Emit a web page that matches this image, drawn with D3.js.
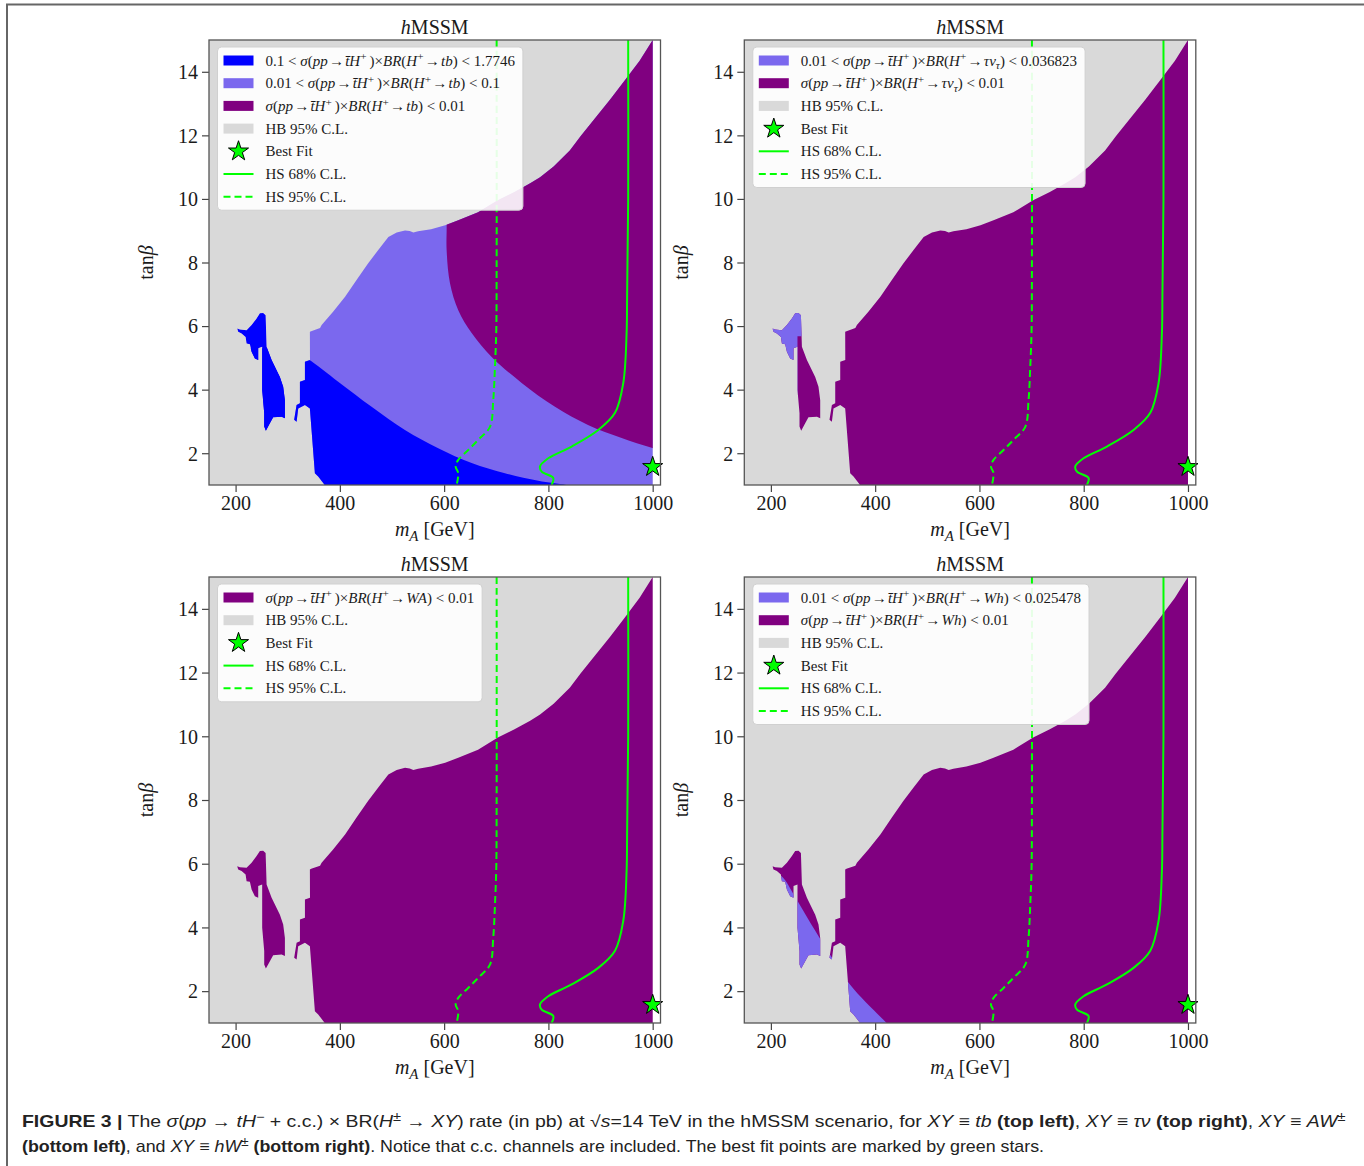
<!DOCTYPE html>
<html>
<head>
<meta charset="utf-8">
<title>hMSSM charged Higgs rates</title>
<script src="https://cdnjs.cloudflare.com/ajax/libs/d3/7.8.5/d3.min.js"></script>
<style>
  body { margin: 0; background: #fff; }
  svg { display: block; }
  text { font-family: 'Liberation Serif', 'Times New Roman', serif; fill: #1a1a1a; white-space: pre; }
  .caption text { font-family: 'Liberation Sans Narrow', 'Liberation Sans', Arial, sans-serif; fill: #222; }
</style>
</head>
<body>
<svg id="fig" width="1364" height="1166"></svg>
<script>
// ---- data (mA in GeV, tan beta) ----
const xTicks = [200, 400, 600, 800, 1000];
const yTicks = [2, 4, 6, 8, 10, 12, 14];
const xDomain = [149, 1015];
const yDomain = [1, 15];
const hbRange = [149, 1000];

// outline of the region allowed by HiggsBounds (main body)
const allowedRegion = [
  [1000, 15.0], [975, 14.35], [947, 13.74], [918, 13.12], [889, 12.53], [862, 11.98],
  [841, 11.52], [810, 11.02], [784, 10.68], [765, 10.49], [735, 10.22], [703, 9.96],
  [665, 9.58], [627, 9.33], [602, 9.17], [575, 9.05], [550, 8.98], [541, 8.94],
  [534, 8.99], [525, 9.01], [509, 8.94], [493, 8.80], [474, 8.40], [454, 7.97],
  [432, 7.45], [410, 6.92], [387, 6.45], [365, 6.03], [362, 5.94], [345, 5.84],
  [342.5, 5.82], [342.7, 4.93], [333, 4.88], [333, 4.30], [323.4, 4.25], [323.4, 3.57],
  [317, 3.52], [312.4, 3.05], [317, 2.99], [320.1, 3.41], [333, 3.52], [342.5, 3.41],
  [352.1, 1.37], [358.5, 1.27], [368.1, 1.06], [371, 1.0], [1000, 1.0]
];
// small allowed island at low mA
const island = [
  [252.9, 6.41], [257.6, 6.34], [259.5, 5.35], [269.1, 4.93], [285, 4.40], [291.3, 4.09],
  [294.6, 3.67], [294.6, 3.10], [288.3, 3.15], [272.1, 3.13], [265.8, 2.94], [258.1, 2.71],
  [254.9, 2.84], [254.9, 3.26], [251, 3.99], [251, 5.35], [243.4, 5.30], [243.4, 4.93],
  [237, 4.98], [230.7, 5.19], [227.4, 5.43], [221.1, 5.45], [219.2, 5.66], [211.5, 5.77],
  [205, 5.82], [203.1, 5.92], [208.2, 5.89], [221.1, 5.87], [230.7, 6.03], [240.3, 6.24],
  [246.6, 6.40]
];
// tb channel: contour 0.1 pb and 0.01 pb
const tbBlueEdge = [
  [300, 5.3], [338, 4.97], [396.8, 4.25], [460.9, 3.46], [524.8, 2.73], [588.7, 2.16],
  [652.8, 1.69], [716.6, 1.37], [780.5, 1.13], [834, 1.0], [860, 0.9], [140, 0.6], [140, 5.3]
];
const tbPurpleEdge = [
  [600, 15.5], [603, 11], [604.8, 9.17], [604.8, 8.38], [611.2, 7.35], [627.1, 6.5],
  [652.8, 5.78], [691.1, 5.03], [748.7, 4.21], [812.6, 3.46], [875.9, 2.89], [940.5, 2.48],
  [998, 2.17], [1050, 1.95], [1100, 1.9], [1100, 16]
];
// tau nu channel: 0.01 pb contour
const tauZone = [[140, 16], [300, 16], [300, 5.68], [251, 5.68], [251, 0.5], [140, 0.5]];
// Wh channel: 0.01 pb contour
const whEdge = [
  [140, 5.9], [200, 5.75], [221, 5.6], [245, 5.0], [270, 4.3], [300, 3.5], [352, 2.2],
  [422, 1.0], [440, 0.7], [140, 0.5]
];
// HiggsSignals contours
const hs68 = [
  [953, 15], [953, 10], [951, 7], [950, 5.78], [943.6, 4.21], [927.7, 3.27], [895.6, 2.73],
  [844.6, 2.21], [799.7, 1.84], [783.8, 1.58], [787.1, 1.42], [809.3, 1.22], [806.2, 1.0]
];
const hs95 = [
  [700.7, 15], [700.7, 8], [700, 5.87], [697.5, 4.72], [694.2, 3.67], [687.9, 2.83],
  [665.4, 2.42], [646.2, 2.1], [627.1, 1.79], [622.1, 1.58], [627.1, 1.37], [624, 1.0]
];
const bestFit = [1000, 1.57];

// ---- text ----
const tbLabels = [
  '0.1 < {σ}({pp} → {t̄H}^+^ )×{BR}({H}^+^ → {tb}) < 1.7746',
  '0.01 < {σ}({pp} → {t̄H}^+^ )×{BR}({H}^+^ → {tb}) < 0.1',
  '{σ}({pp} → {t̄H}^+^ )×{BR}({H}^+^ → {tb}) < 0.01'
];
const tauLabels = [
  '0.01 < {σ}({pp} → {t̄H}^+^ )×{BR}({H}^+^ → {τν}~{τ}~) < 0.036823',
  '{σ}({pp} → {t̄H}^+^ )×{BR}({H}^+^ → {τν}~{τ}~) < 0.01'
];
const waLabels = ['{σ}({pp} → {t̄H}^+^ )×{BR}({H}^+^ → {WA}) < 0.01'];
const whLabels = [
  '0.01 < {σ}({pp} → {t̄H}^+^ )×{BR}({H}^+^ → {Wh}) < 0.025478',
  '{σ}({pp} → {t̄H}^+^ )×{BR}({H}^+^ → {Wh}) < 0.01'
];
const commonLabels = ['HB 95% C.L.', 'Best Fit', 'HS 68% C.L.', 'HS 95% C.L.'];
const caption = [
  '*FIGURE 3 |* The {σ}({pp} → {tH}^−^ + c.c.) × BR({H}^±^ → {XY}) rate (in pb) at √{s}=14 TeV in the hMSSM scenario, for {XY} ≡ {tb} *(top left)*, {XY} ≡ {τν} *(top right)*, {XY} ≡ {AW}^±^',
  '*(bottom left)*, and {XY} ≡ {hW}^±^ *(bottom right)*. Notice that c.c. channels are included. The best fit points are marked by green stars.'
];

const BLUE = '#0000ff', LIGHT = '#7b68ee', PURPLE = '#800080', GRAY = '#d9d9d9', GREEN = '#00ff00';
const W = 451.5;

const panels = [
  { left: 209, top: 40, h: 445,
    layers: [[LIGHT, null, false], [PURPLE, tbPurpleEdge, true], [BLUE, tbBlueEdge, true], [BLUE, island, false]],
    legend: [['patch', BLUE, tbLabels[0]], ['patch', LIGHT, tbLabels[1]], ['patch', PURPLE, tbLabels[2]]] },
  { left: 744.3, top: 40, h: 445,
    layers: [[PURPLE, null, false], [LIGHT, tauZone, false]],
    legend: [['patch', LIGHT, tauLabels[0]], ['patch', PURPLE, tauLabels[1]]] },
  { left: 209, top: 577, h: 446,
    layers: [[PURPLE, null, false]],
    legend: [['patch', PURPLE, waLabels[0]]] },
  { left: 744.3, top: 577, h: 446,
    layers: [[PURPLE, null, false], [LIGHT, whEdge, true]],
    legend: [['patch', LIGHT, whLabels[0]], ['patch', PURPLE, whLabels[1]]] }
];
panels.forEach(p => p.legend.push(
  ['patch', GRAY, commonLabels[0]], ['star', GREEN, commonLabels[1]],
  ['line', GREEN, commonLabels[2]], ['dash', GREEN, commonLabels[3]]));

// {..} italic, ^..^ superscript, ~..~ subscript, *..* bold
function rich(textSel, str, size) {
  let it = false, sup = false, sub = false, bold = false, buf = '', shift = 0;
  const flush = () => {
    if (!buf) return;
    const off = sup ? -0.36 * size : sub ? 0.25 * size : 0;
    textSel.append('tspan')
      .attr('dy', (off - shift).toFixed(2))
      .style('font-style', it ? 'italic' : null)
      .style('font-weight', bold ? 'bold' : null)
      .style('font-size', (sup || sub) ? (0.75 * size) + 'px' : null)
      .text(buf);
    shift = off; buf = '';
  };
  for (const ch of str) {
    if ('{}^~*'.includes(ch)) {
      flush();
      if (ch === '{') it = true;
      else if (ch === '}') it = false;
      else if (ch === '^') sup = !sup;
      else if (ch === '~') sub = !sub;
      else bold = !bold;
    } else buf += ch;
  }
  flush();
  return textSel;
}
// thin spacing around arrows in legend labels
const mathSpace = s => s.replace(/ → /g, '\u200a→\u200a').replace(/ \)/g, '\u2009)');

const svg = d3.select('#fig');
const defs = svg.append('defs');

// figure frame
svg.append('path').attr('d', 'M7,1166 V4.5 H1364').attr('fill', 'none').attr('stroke', '#666').attr('stroke-width', 2);

const star = d3.symbol(d3.symbolStar).size(125);

panels.forEach((p, idx) => {
  const g = svg.append('g').attr('transform', `translate(${p.left},${p.top})`);
  const x = d3.scaleLinear().domain(xDomain).range([0, W]);
  const y = d3.scaleLinear().domain(yDomain).range([p.h, 0]);
  const line = d3.line().x(d => x(d[0])).y(d => y(d[1]));
  const smooth = d3.line().x(d => x(d[0])).y(d => y(d[1])).curve(d3.curveCatmullRom.alpha(0.5));

  defs.append('clipPath').attr('id', 'plot' + idx)
    .append('rect').attr('width', W).attr('height', p.h);
  const cp = defs.append('clipPath').attr('id', 'allowed' + idx);
  cp.append('path').attr('d', line(allowedRegion) + 'Z');
  cp.append('path').attr('d', line(island) + 'Z');

  const body = g.append('g').attr('clip-path', `url(#plot${idx})`);
  body.append('rect')
    .attr('x', x(hbRange[0])).attr('y', y(yDomain[1]))
    .attr('width', x(hbRange[1]) - x(hbRange[0])).attr('height', y(yDomain[0]) - y(yDomain[1]))
    .attr('fill', GRAY);

  const zones = body.append('g').attr('clip-path', `url(#allowed${idx})`);
  p.layers.forEach(([color, poly, curved]) => {
    if (!poly) {
      zones.append('rect').attr('width', W).attr('height', p.h).attr('fill', color);
    } else {
      zones.append('path').attr('d', (curved ? smooth : line)(poly) + 'Z').attr('fill', color);
    }
  });

  body.append('path').attr('d', smooth(hs95)).attr('fill', 'none')
    .attr('stroke', GREEN).attr('stroke-width', 2).attr('stroke-dasharray', '7,4');
  body.append('path').attr('d', smooth(hs68)).attr('fill', 'none')
    .attr('stroke', GREEN).attr('stroke-width', 2);

  g.append('path').attr('d', star())
    .attr('transform', `translate(${x(bestFit[0])},${y(bestFit[1])})`)
    .attr('fill', GREEN).attr('stroke', '#000').attr('stroke-width', 1);

  // axes
  const xa = g.append('g').attr('transform', `translate(0,${p.h})`)
    .call(d3.axisBottom(x).tickValues(xTicks).tickFormat(d3.format('d')).tickSize(7).tickPadding(4));
  const ya = g.append('g')
    .call(d3.axisLeft(y).tickValues(yTicks).tickFormat(d3.format('d')).tickSize(7).tickPadding(4));
  [xa, ya].forEach(a => {
    a.select('.domain').remove();
    a.selectAll('line').attr('stroke', '#444').attr('stroke-width', 1.2);
    a.selectAll('text').attr('font-family', null).attr('font-size', null)
      .style('font-size', '20px').attr('fill', '#1a1a1a');
  });
  ya.selectAll('text').attr('dy', '0.34em');

  g.append('rect').attr('width', W).attr('height', p.h)
    .attr('fill', 'none').attr('stroke', '#555').attr('stroke-width', 1.3);

  rich(g.append('text').attr('x', W / 2).attr('y', -6).attr('text-anchor', 'middle').style('font-size', '20px'),
    '{h}MSSM', 20);
  rich(g.append('text').attr('x', W / 2).attr('y', p.h + 51).attr('text-anchor', 'middle').style('font-size', '20px'),
    '{m}~{A}~ [GeV]', 20);
  rich(g.append('text').attr('transform', `translate(-56,${p.h / 2}) rotate(-90)`)
    .attr('text-anchor', 'middle').style('font-size', '20px'), 'tan{β}', 20);

  // legend
  const lg = g.append('g').attr('transform', 'translate(8.5,7)');
  const box = lg.append('rect').attr('rx', 4).attr('fill', '#fff').attr('fill-opacity', 0.9)
    .attr('stroke', '#d0d0d0').attr('stroke-width', 1);
  let maxW = 0;
  p.legend.forEach(([kind, color, label], i) => {
    const cy = 13.5 + i * 22.7;
    const row = lg.append('g').attr('transform', `translate(0,${cy})`);
    if (kind === 'patch') {
      row.append('rect').attr('x', 6).attr('y', -5).attr('width', 30).attr('height', 10).attr('fill', color);
    } else if (kind === 'star') {
      row.append('path').attr('d', star()).attr('transform', 'translate(21,0)')
        .attr('fill', color).attr('stroke', '#000').attr('stroke-width', 1);
    } else {
      row.append('line').attr('x1', 6).attr('x2', 36).attr('stroke', color).attr('stroke-width', 2)
        .attr('stroke-dasharray', kind === 'dash' ? '7,4' : null);
    }
    const t = rich(row.append('text').attr('x', 48).attr('y', 5).style('font-size', '15px'), mathSpace(label), 15);
    maxW = Math.max(maxW, t.node().getComputedTextLength());
  });
  box.attr('width', 48 + maxW + 8).attr('height', 27 + (p.legend.length - 1) * 22.7);
});

// caption
const cap = svg.append('g').attr('class', 'caption');
[[caption[0], 1127, 1325], [caption[1], 1152, 1023]].forEach(([str, yy, target]) => {
  const t = rich(cap.append('text').attr('x', 0).attr('y', 0).style('font-size', '16px'), str, 16);
  const w = t.node().getBBox().width;
  t.attr('transform', `translate(22,${yy}) scale(${target / w},1)`);
});
</script>
</body>
</html>
